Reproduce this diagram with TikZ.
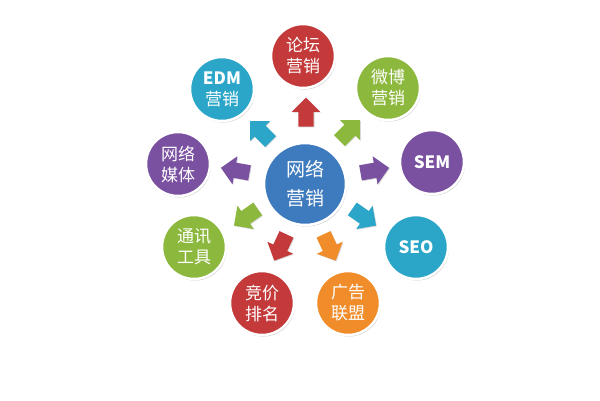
\documentclass[tikz,border=0pt]{standalone}
\usepackage{fontspec}
\setmainfont{Noto Sans CJK SC}
\usetikzlibrary{shapes.arrows,shadows}
\definecolor{cred}{RGB}{196,58,58}
\definecolor{ccyan}{RGB}{44,166,200}
\definecolor{cgreen}{RGB}{141,184,62}
\definecolor{cpurple}{RGB}{122,80,160}
\definecolor{cblue}{RGB}{62,122,190}
\definecolor{corange}{RGB}{240,140,42}
\begin{document}
\begin{tikzpicture}[x=1pt,y=-1pt,
  bubble/.style={circle, fill=#1, draw=white, line width=2.5pt, minimum size=64pt,
    inner sep=0pt, text=white, align=center,
    font=\fontsize{17}{21}\selectfont,
    drop shadow={shadow xshift=1pt, shadow yshift=-1.5pt, opacity=0.35, fill=black!60}},
  hub/.style={bubble=#1, minimum size=82pt, font=\fontsize{19}{29}\selectfont},
  arr/.style={single arrow, fill=#1, minimum height=29pt, minimum width=0pt,
    single arrow head extend=6.5pt, single arrow head indent=0pt,
    inner xsep=0pt, inner ysep=7.5pt,
    drop shadow={shadow xshift=0.8pt, shadow yshift=-0.8pt, opacity=0.25, fill=black!60}}]
\useasboundingbox[fill=white] (0,0) rectangle (600,400);

\node[hub=cblue] (hub) at (305,184) {网络\\营销};

\node[bubble=cred]    (forum) at (303,56)  {论坛\\营销};
\node[bubble=ccyan]   (edm)   at (222,89)  {\textbf{EDM}\\营销};
\node[bubble=cgreen]  (weibo) at (388,88)  {微博\\营销};
\node[bubble=cpurple] (media) at (178,164) {网络\\媒体};
\node[bubble=cpurple] (sem)   at (432,162) {\textbf{SEM}};
\node[bubble=cgreen]  (im)    at (194,247) {通讯\\工具};
\node[bubble=ccyan]   (seo)   at (416,247) {\textbf{SEO}};
\node[bubble=cred]    (bid)   at (262,303) {竞价\\排名};
\node[bubble=corange] (ads)   at (348,303) {广告\\联盟};

\node[arr=cred,    rotate=90]  (a1) at (306,116) {};
\node[arr=ccyan,   rotate=135] (a2) at (263,134) {};
\node[arr=cgreen,  rotate=45]  (a3) at (347,133) {};
\node[arr=cpurple, rotate=170] (a4) at (239,171) {};
\node[arr=cpurple, rotate=10]  (a5) at (371,171) {};
\node[arr=cgreen,  rotate=215] (a6) at (249,215) {};
\node[arr=ccyan,   rotate=-35] (a7) at (361,215) {};
\node[arr=cred,    rotate=245] (a8) at (282,244) {};
\node[arr=corange, rotate=-65] (a9) at (328,244) {};
\end{tikzpicture}
\end{document}
